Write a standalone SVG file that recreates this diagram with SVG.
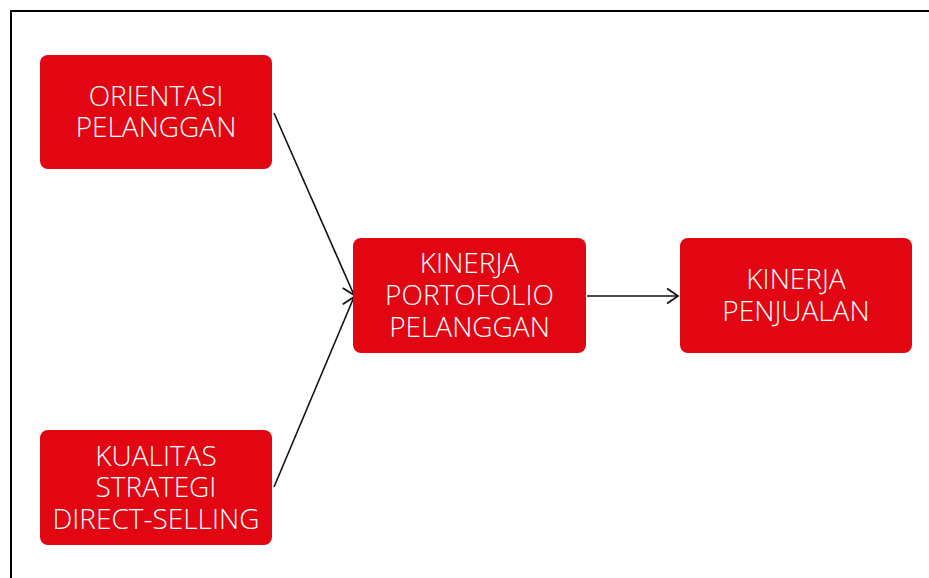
<svg xmlns="http://www.w3.org/2000/svg" width="929" height="578" viewBox="0 0 929 578">
  <defs>
    <style>
      .box { fill: #e20613; }
      .lbl { fill: #ffffff; font-family: "Open Sans", "Lato", "Liberation Sans", sans-serif; font-weight: 300; font-size: 28px; text-anchor: middle; }
      .edge { fill: none; stroke: #111111; stroke-width: 1.6; marker-end: url(#arrow); }
      .frame { fill: none; stroke: #000000; stroke-width: 2; }
    </style>
    <marker id="arrow" markerWidth="14" markerHeight="18" refX="12" refY="9" orient="auto" markerUnits="userSpaceOnUse">
      <path d="M1,1.5 L12,9 L1,16.5" fill="none" stroke="#111111" stroke-width="1.8"/>
    </marker>
  </defs>

  <rect width="929" height="578" fill="#ffffff"/>
  <!-- page frame: top and left edges only -->
  <path class="frame" d="M11,578 L11,11 L929,11"/>

  <g id="connectors">
    <line class="edge" x1="274" y1="113" x2="354" y2="295"/>
    <line class="edge" x1="274" y1="487" x2="354" y2="297"/>
    <line class="edge" x1="587" y1="296" x2="678" y2="296"/>
  </g>

  <g id="orientasi-pelanggan">
    <rect class="box" x="40" y="55" width="232" height="114" rx="8"/>
    <text class="lbl" x="156" y="106">ORIENTASI</text>
    <text class="lbl" x="156" y="137">PELANGGAN</text>
  </g>

  <g id="kualitas-strategi">
    <rect class="box" x="40" y="430" width="232" height="115" rx="8"/>
    <text class="lbl" x="156" y="466">KUALITAS</text>
    <text class="lbl" x="156" y="497">STRATEGI</text>
    <text class="lbl" x="156" y="529">DIRECT-SELLING</text>
  </g>

  <g id="kinerja-portofolio">
    <rect class="box" x="353" y="238" width="233" height="115" rx="8"/>
    <text class="lbl" x="469.5" y="273">KINERJA</text>
    <text class="lbl" x="469.5" y="305">PORTOFOLIO</text>
    <text class="lbl" x="469.5" y="337">PELANGGAN</text>
  </g>

  <g id="kinerja-penjualan">
    <rect class="box" x="680" y="238" width="232" height="115" rx="8"/>
    <text class="lbl" x="796" y="289">KINERJA</text>
    <text class="lbl" x="796" y="321">PENJUALAN</text>
  </g>
</svg>
